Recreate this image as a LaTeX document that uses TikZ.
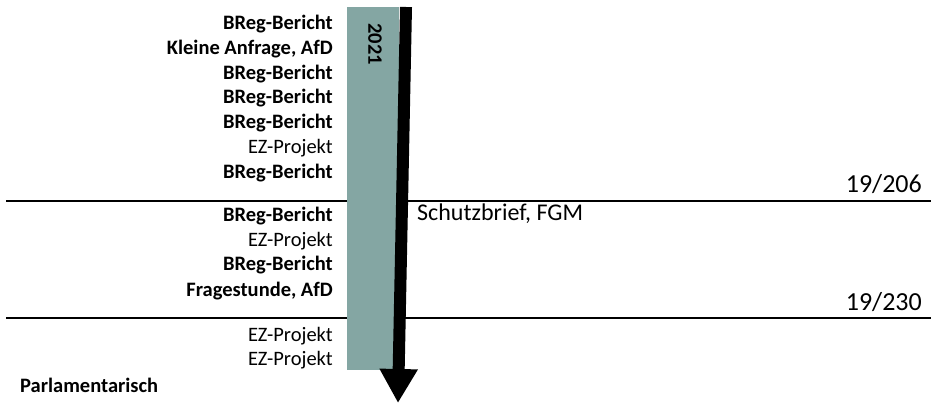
\documentclass[tikz,border=0pt]{standalone}
\usepackage{fontspec}
\setmainfont{Carlito}
\usepackage{xcolor}
\usetikzlibrary{positioning,calc,arrows.meta}
\definecolor{balken}{RGB}{132,166,163}

\begin{document}
\begin{tikzpicture}[x=1pt, y=-1pt,
    eintrag/.style={anchor=base east, inner sep=0pt, font=\fontsize{20.5}{25}\selectfont},
    fett/.style={eintrag, font=\fontsize{20.5}{25}\selectfont\bfseries},
    rechts/.style={anchor=base west, inner sep=0pt, font=\fontsize{24}{29}\selectfont},
    nummer/.style={anchor=base east, inner sep=0pt, font=\fontsize{26}{31}\selectfont}]

    \useasboundingbox (0,0) rectangle (931,403);

    % Trennlinien
    \coordinate (l1a) at (6,201);
    \coordinate (l1b) at (931,201);
    \coordinate (l2a) at (6,318);
    \coordinate (l2b) at (931,318);
    \draw[line width=1.6] (l1a) -- (l1b);
    \draw[line width=1.6] (l2a) -- (l2b);

    % Zeitbalken
    \fill[balken] (347,7) rectangle (399,370);
    \node[rotate=-90, inner sep=0pt, font=\fontsize{20.5}{25}\selectfont\bfseries] (jahr) at (375,44) {2021};
    \coordinate (start) at (406,7);
    \coordinate (ende) at (398,403);
    \draw[line width=12, -{Triangle[width=36pt, length=34pt]}] (start) -- (ende);

    % linke Spalte
    \node[fett]    (a1) at (333,30)  {BReg-Bericht};
    \node[fett]    (a2) at (333,55)  {Kleine Anfrage, AfD};
    \node[fett]    (a3) at (333,80)  {BReg-Bericht};
    \node[fett]    (a4) at (333,104) {BReg-Bericht};
    \node[fett]    (a5) at (333,129) {BReg-Bericht};
    \node[eintrag] (a6) at (333,154) {EZ-Projekt};
    \node[fett]    (a7) at (333,179) {BReg-Bericht};

    \node[fett]    (b1) at (333,222) {BReg-Bericht};
    \node[eintrag] (b2) at (333,247) {EZ-Projekt};
    \node[fett]    (b3) at (333,271) {BReg-Bericht};
    \node[fett]    (b4) at (333,296) {Fragestunde, AfD};

    \node[eintrag] (c1) at (333,341) {EZ-Projekt};
    \node[eintrag] (c2) at (333,365) {EZ-Projekt};

    \node[fett, anchor=base west] (parl) at (20,392) {Parlamentarisch};

    % rechte Seite
    \node[rechts] (schutz) at (417,221) {Schutzbrief, FGM};
    \node[nummer] (dr1) at (922,193) {19/206};
    \node[nummer] (dr2) at (922,310) {19/230};
\end{tikzpicture}
\end{document}
